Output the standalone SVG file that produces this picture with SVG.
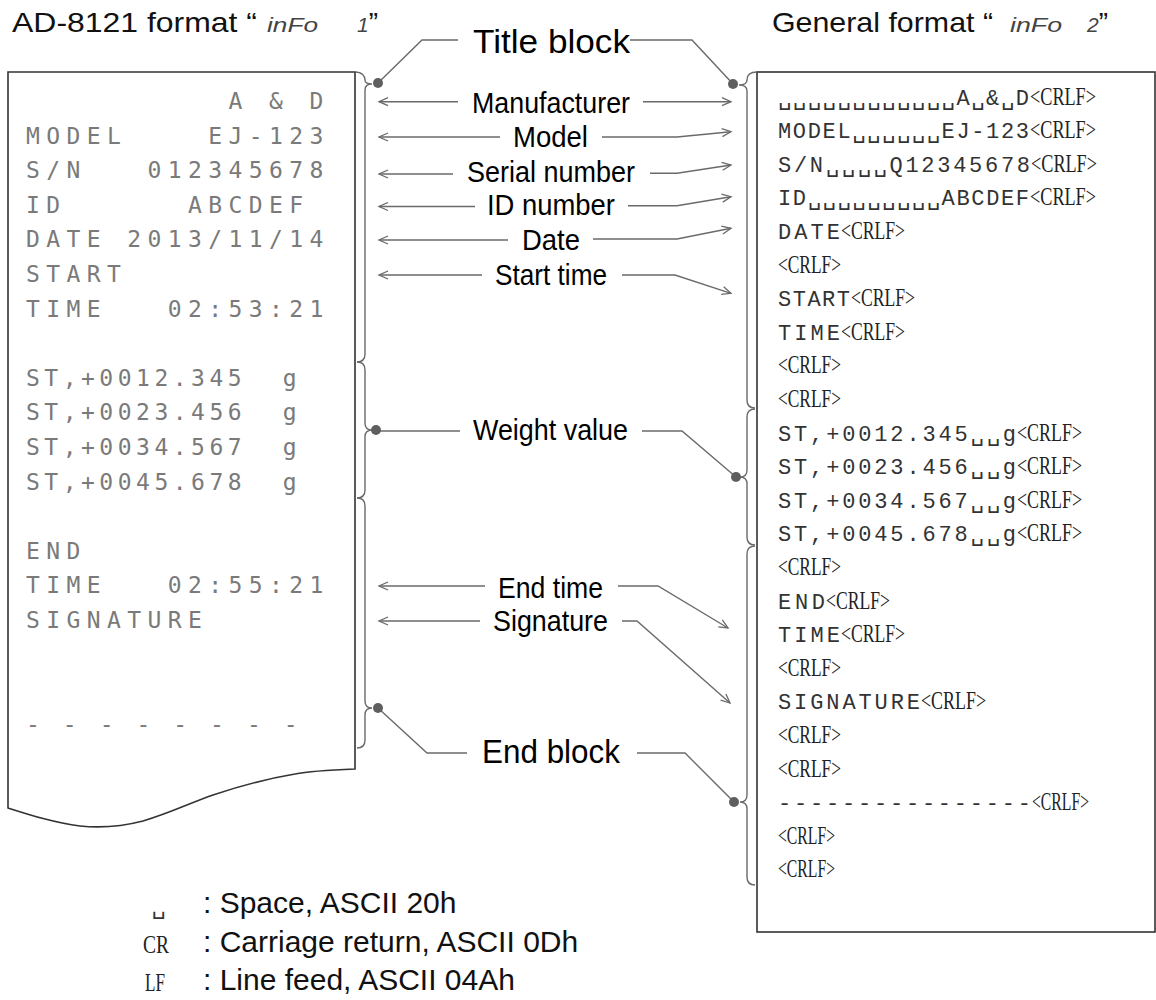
<svg xmlns="http://www.w3.org/2000/svg" width="1156" height="1000" viewBox="0 0 1156 1000">
<style>
.hdr{font-family:"Liberation Sans",Arial,sans-serif;font-size:28px;fill:#111}
.seg{font-family:"Liberation Sans",Arial,sans-serif;font-size:21px;font-style:italic;fill:#444}
.lbl{font-family:"Liberation Sans",Arial,sans-serif;font-size:30px;fill:#000}
.big{font-family:"Liberation Sans",Arial,sans-serif;font-size:34px;fill:#000}
.dm{font-family:"DejaVu Sans Mono","Liberation Mono",monospace;font-size:23px;fill:#7a7a7a;letter-spacing:6.4px;white-space:pre}
.mono{font-family:"Liberation Mono","DejaVu Sans Mono",monospace;font-size:22px;fill:#333;white-space:pre}
.crlf{font-family:"Liberation Serif","Times New Roman",serif;font-size:26px;fill:#222}
.leg{font-family:"Liberation Sans",Arial,sans-serif;font-size:30px;fill:#111}
.ln{fill:none;stroke:#6a6a6a;stroke-width:1.4}
.dot{fill:#5f5f5f}
.frame{fill:#fff;stroke:#333;stroke-width:1.6}
</style>
<defs>
<marker id="arr" markerWidth="12" markerHeight="10" refX="10" refY="5" orient="auto" markerUnits="userSpaceOnUse">
<path d="M1,1 L10,5 L1,9" fill="none" stroke="#6a6a6a" stroke-width="1.3"/>
</marker>
</defs>

<g id="headers">
<text class="hdr" x="12" y="32" textLength="245" lengthAdjust="spacingAndGlyphs">AD-8121 format “</text>
<text class="seg" x="267" y="32" textLength="51" lengthAdjust="spacingAndGlyphs">inFo</text>
<text x="357" y="32"><tspan class="seg">1</tspan><tspan class="hdr">”</tspan></text>
<text class="hdr" x="772" y="32" textLength="221" lengthAdjust="spacingAndGlyphs">General format “</text>
<text class="seg" x="1010" y="32" textLength="52" lengthAdjust="spacingAndGlyphs">inFo</text>
<text x="1087" y="32"><tspan class="seg">2</tspan><tspan class="hdr">”</tspan></text>
</g>

<g id="printout">
<path class="frame" d="M8,72 H355 V769 C330,770 310,771 295,774 C265,779 240,786 213,795 C190,803 170,813 143,821 C120,827 100,828 80,826 C55,823 30,815 8,808 Z"/>
<text class="dm" xml:space="preserve" x="26" y="109">          A &amp; D</text>
<text class="dm" xml:space="preserve" x="26" y="143.6">MODEL    EJ-123</text>
<text class="dm" xml:space="preserve" x="26" y="178.2">S/N   012345678</text>
<text class="dm" xml:space="preserve" x="26" y="212.8">ID      ABCDEF</text>
<text class="dm" xml:space="preserve" x="26" y="247.4">DATE 2013/11/14</text>
<text class="dm" xml:space="preserve" x="26" y="282">START</text>
<text class="dm" xml:space="preserve" x="26" y="316.6">TIME   02:53:21</text>
<text class="dm" xml:space="preserve" x="26" y="385.8" textLength="277">ST,+0012.345  g</text>
<text class="dm" xml:space="preserve" x="26" y="420.4" textLength="277">ST,+0023.456  g</text>
<text class="dm" xml:space="preserve" x="26" y="455" textLength="277">ST,+0034.567  g</text>
<text class="dm" xml:space="preserve" x="26" y="489.6" textLength="277">ST,+0045.678  g</text>
<text class="dm" xml:space="preserve" x="26" y="558.8">END</text>
<text class="dm" xml:space="preserve" x="26" y="593.4">TIME   02:55:21</text>
<text class="dm" xml:space="preserve" x="26" y="628">SIGNATURE</text>
<text class="dm" xml:space="preserve" x="26" y="732" textLength="278">- - - - - - - -</text>
</g>

<g id="general-format">
<rect class="frame" x="757" y="72" width="398" height="860"/>
<text class="mono" x="778" y="104.5" textLength="251">␣␣␣␣␣␣␣␣␣␣␣␣A␣&amp;␣D</text><text class="crlf" x="1030" y="104.5" textLength="66" lengthAdjust="spacingAndGlyphs">&lt;CRLF&gt;</text>
<text class="mono" x="778" y="138.1" textLength="251">MODEL␣␣␣␣␣␣EJ-123</text><text class="crlf" x="1030" y="138.1" textLength="66" lengthAdjust="spacingAndGlyphs">&lt;CRLF&gt;</text>
<text class="mono" x="778" y="171.7" textLength="252">S/N␣␣␣␣Q12345678</text><text class="crlf" x="1031" y="171.7" textLength="66" lengthAdjust="spacingAndGlyphs">&lt;CRLF&gt;</text>
<text class="mono" x="778" y="205.3" textLength="251">ID␣␣␣␣␣␣␣␣␣ABCDEF</text><text class="crlf" x="1030" y="205.3" textLength="66" lengthAdjust="spacingAndGlyphs">&lt;CRLF&gt;</text>
<text class="mono" x="778" y="238.9" textLength="62">DATE</text><text class="crlf" x="841" y="238.9" textLength="64" lengthAdjust="spacingAndGlyphs">&lt;CRLF&gt;</text>
<text class="crlf" x="778" y="272.5" textLength="63" lengthAdjust="spacingAndGlyphs">&lt;CRLF&gt;</text>
<text class="mono" x="778" y="306.1" textLength="72">START</text><text class="crlf" x="851" y="306.1" textLength="64" lengthAdjust="spacingAndGlyphs">&lt;CRLF&gt;</text>
<text class="mono" x="778" y="339.7" textLength="62">TIME</text><text class="crlf" x="841" y="339.7" textLength="64" lengthAdjust="spacingAndGlyphs">&lt;CRLF&gt;</text>
<text class="crlf" x="778" y="373.3" textLength="63" lengthAdjust="spacingAndGlyphs">&lt;CRLF&gt;</text>
<text class="crlf" x="778" y="406.9" textLength="63" lengthAdjust="spacingAndGlyphs">&lt;CRLF&gt;</text>
<text class="mono" x="778" y="440.5" textLength="238">ST,+0012.345␣␣g</text><text class="crlf" x="1017" y="440.5" textLength="65" lengthAdjust="spacingAndGlyphs">&lt;CRLF&gt;</text>
<text class="mono" x="778" y="474.1" textLength="238">ST,+0023.456␣␣g</text><text class="crlf" x="1017" y="474.1" textLength="65" lengthAdjust="spacingAndGlyphs">&lt;CRLF&gt;</text>
<text class="mono" x="778" y="507.7" textLength="238">ST,+0034.567␣␣g</text><text class="crlf" x="1017" y="507.7" textLength="65" lengthAdjust="spacingAndGlyphs">&lt;CRLF&gt;</text>
<text class="mono" x="778" y="541.3" textLength="238">ST,+0045.678␣␣g</text><text class="crlf" x="1017" y="541.3" textLength="65" lengthAdjust="spacingAndGlyphs">&lt;CRLF&gt;</text>
<text class="crlf" x="778" y="574.9" textLength="63" lengthAdjust="spacingAndGlyphs">&lt;CRLF&gt;</text>
<text class="mono" x="778" y="608.5" textLength="47">END</text><text class="crlf" x="826" y="608.5" textLength="64" lengthAdjust="spacingAndGlyphs">&lt;CRLF&gt;</text>
<text class="mono" x="778" y="642.1" textLength="62">TIME</text><text class="crlf" x="841" y="642.1" textLength="64" lengthAdjust="spacingAndGlyphs">&lt;CRLF&gt;</text>
<text class="crlf" x="778" y="675.7" textLength="63" lengthAdjust="spacingAndGlyphs">&lt;CRLF&gt;</text>
<text class="mono" x="778" y="709.3" textLength="142">SIGNATURE</text><text class="crlf" x="921" y="709.3" textLength="65" lengthAdjust="spacingAndGlyphs">&lt;CRLF&gt;</text>
<text class="crlf" x="778" y="742.9" textLength="63" lengthAdjust="spacingAndGlyphs">&lt;CRLF&gt;</text>
<text class="crlf" x="778" y="776.5" textLength="63" lengthAdjust="spacingAndGlyphs">&lt;CRLF&gt;</text>
<text class="mono" x="778" y="810.1" textLength="253">----------------</text><text class="crlf" x="1032" y="810.1" textLength="57" lengthAdjust="spacingAndGlyphs">&lt;CRLF&gt;</text>
<text class="crlf" x="778" y="843.7" textLength="57" lengthAdjust="spacingAndGlyphs">&lt;CRLF&gt;</text>
<text class="crlf" x="778" y="877.3" textLength="57" lengthAdjust="spacingAndGlyphs">&lt;CRLF&gt;</text>
</g>

<g id="label-title-block"><text class="big" x="473" y="53" textLength="157" lengthAdjust="spacingAndGlyphs">Title block</text></g>
<g id="label-manufacturer"><text class="lbl" x="472" y="113" textLength="158" lengthAdjust="spacingAndGlyphs">Manufacturer</text></g>
<g id="label-model"><text class="lbl" x="513" y="147" textLength="75" lengthAdjust="spacingAndGlyphs">Model</text></g>
<g id="label-serial"><text class="lbl" x="467" y="182" textLength="168" lengthAdjust="spacingAndGlyphs">Serial number</text></g>
<g id="label-id"><text class="lbl" x="487" y="215" textLength="128" lengthAdjust="spacingAndGlyphs">ID number</text></g>
<g id="label-date"><text class="lbl" x="522" y="250" textLength="58" lengthAdjust="spacingAndGlyphs">Date</text></g>
<g id="label-start"><text class="lbl" x="495" y="285" textLength="112" lengthAdjust="spacingAndGlyphs">Start time</text></g>
<g id="label-weight"><text class="lbl" x="473" y="440" textLength="155" lengthAdjust="spacingAndGlyphs">Weight value</text></g>
<g id="label-endtime"><text class="lbl" x="498" y="598" textLength="105" lengthAdjust="spacingAndGlyphs">End time</text></g>
<g id="label-signature"><text class="lbl" x="493" y="631" textLength="115" lengthAdjust="spacingAndGlyphs">Signature</text></g>
<g id="label-end-block"><text class="big" x="482" y="763" textLength="138" lengthAdjust="spacingAndGlyphs">End block</text></g>

<g id="connectors">
<path class="ln" d="M355,72 C362,72 365,76 365,80 C365,83 368,84 372,84 M372,84 C368,84 365,86 365,90 L365,354 Q365,362 357,362"/>
<path class="ln" d="M357,362 Q365,362 365,370 L365,423 Q365,430 372,430 Q365,430 365,437 L365,490 Q365,498 357,498"/>
<path class="ln" d="M357,498 Q365,498 365,506 L365,701 Q365,708 372,708 Q365,708 365,715 L365,740 Q365,748 357,748"/>
<path class="ln" d="M757,72 C750,72 747,75 747,80 C747,84 744,85 739,85 M739,85 C744,85 747,87 747,91 L747,400 Q747,408 755,408"/>
<path class="ln" d="M755,409 Q747,409 747,417 L747,470 Q747,477 740,477 Q747,477 747,484 L747,537 Q747,545 755,545"/>
<path class="ln" d="M755,546 Q747,546 747,554 L747,795 Q747,802 740,802 Q747,802 747,809 L747,877 Q747,885 755,885"/>
<path class="ln" d="M458,40 H422 L378,83"/>
<path class="ln" d="M630,40 H692 L733,84"/>
<path class="ln" d="M460,431 H376"/>
<path class="ln" d="M642,431 H682 L736,477"/>
<path class="ln" d="M467,753 H427 L378,708"/>
<path class="ln" d="M637,753 H685 L734,802"/>
<path class="ln" marker-end="url(#arr)" d="M458,101.7 H379"/>
<path class="ln" marker-end="url(#arr)" d="M500,137 H379"/>
<path class="ln" marker-end="url(#arr)" d="M453,174 H379"/>
<path class="ln" marker-end="url(#arr)" d="M475,206.5 H379"/>
<path class="ln" marker-end="url(#arr)" d="M508,240 H379"/>
<path class="ln" marker-end="url(#arr)" d="M482,275 H379"/>
<path class="ln" marker-end="url(#arr)" d="M485,586 H379"/>
<path class="ln" marker-end="url(#arr)" d="M480,621 H379"/>
<path class="ln" marker-end="url(#arr)" d="M643,101.7 H731"/>
<path class="ln" marker-end="url(#arr)" d="M602,137 H677 L731,131.7"/>
<path class="ln" marker-end="url(#arr)" d="M650,173.3 H677 L731,165"/>
<path class="ln" marker-end="url(#arr)" d="M628,205.7 H677 L731,196.7"/>
<path class="ln" marker-end="url(#arr)" d="M593,239 H677 L731,228.3"/>
<path class="ln" marker-end="url(#arr)" d="M622,275 H675 L731,293.3"/>
<path class="ln" marker-end="url(#arr)" d="M618,586 H658 L728,628"/>
<path class="ln" marker-end="url(#arr)" d="M622,621 H637 L730,703"/>
<circle class="dot" cx="378" cy="83" r="5"/>
<circle class="dot" cx="376" cy="430" r="5"/>
<circle class="dot" cx="378" cy="708" r="5"/>
<circle class="dot" cx="733" cy="84" r="5"/>
<circle class="dot" cx="736" cy="477" r="5"/>
<circle class="dot" cx="734" cy="802" r="5"/>
</g>

<g id="legend">
<text x="152" y="914" style="font-family:'DejaVu Sans',sans-serif;font-size:22px;fill:#333">␣</text>
<text class="leg" x="203" y="913">: Space, ASCII 20h</text>
<text class="crlf" x="143" y="953" textLength="26" lengthAdjust="spacingAndGlyphs">CR</text>
<text class="leg" x="203" y="952">: Carriage return, ASCII 0Dh</text>
<text class="crlf" x="145" y="991" textLength="20" lengthAdjust="spacingAndGlyphs">LF</text>
<text class="leg" x="203" y="990">: Line feed, ASCII 04Ah</text>
</g>
</svg>
